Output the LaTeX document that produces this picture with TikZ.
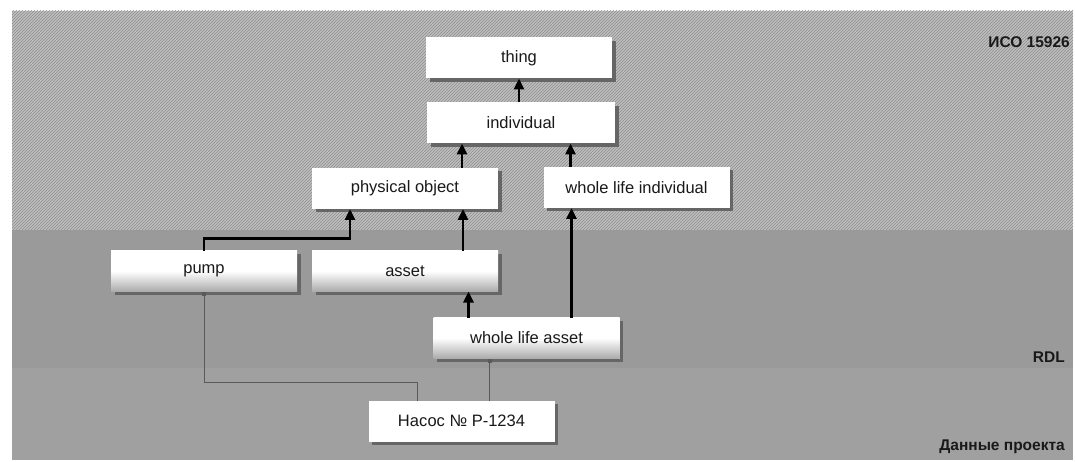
\documentclass[tikz,border=0pt]{standalone}
\usepackage{fontspec}
\setmainfont{Liberation Sans}
\usetikzlibrary{arrows.meta,shadows,patterns}
\definecolor{bandtop}{HTML}{BEBEBE}
\definecolor{bandtex}{HTML}{8E8E8E}
\definecolor{bandrdl}{HTML}{9A9A9A}
\definecolor{banddata}{HTML}{A0A0A0}
\definecolor{shadowgray}{HTML}{666666}
\definecolor{linkgray}{HTML}{5A5A5A}
\definecolor{boxlow}{HTML}{ABABAB}
\begin{document}
\begin{tikzpicture}[x=1pt,y=-1pt,
  font=\fontsize{16.5}{19}\selectfont,
  cls/.style={draw=none,fill=white,minimum width=186pt,minimum height=41pt,
    inner sep=0pt,outer sep=0pt,text=black!90,
    drop shadow={shadow xshift=3.5pt,shadow yshift=-3.5pt,fill=shadowgray,opacity=1}},
  rdlbox/.style={cls,top color=white,bottom color=boxlow,middle color=white},
  arr/.style={line width=2.8pt,-{Triangle[width=10pt,length=11pt]},black},
  link/.style={line width=0.9pt,linkgray,-{Square[length=4pt,width=4pt]}},
  lbl/.style={font=\fontsize{15.5}{18}\bfseries\selectfont,anchor=east,inner sep=0pt,text=black!90}]
\useasboundingbox (0,0) rectangle (1075,462);
\fill[white] (0,0) rectangle (1075,462);
% bands
\fill[bandtop] (12,11) rectangle (1073,230);
\fill[pattern=north east lines,pattern color=bandtex] (12,11) rectangle (1073,230);
\fill[bandrdl] (12,230) rectangle (1073,368);
\fill[banddata] (12,368) rectangle (1073,460);
% labels
\node[lbl] (iso) at (1070,42) {ИСО 15926};
\node[lbl] (rdl) at (1065,357) {RDL};
\node[lbl] (data) at (1065,447) {Данные проекта};
% nodes
\node[cls] (thing) at (519,58) {thing};
\node[cls,minimum width=188pt] (individual) at (521,123) {individual};
\node[cls] (physobj) at (405,188.5) {physical object};
\node[cls] (wli) at (636.5,187.5) {whole life individual};
\node[rdlbox] (pump) at (204,271) {pump};
\node[rdlbox] (asset) at (405,271) {asset};
\node[rdlbox] (wla) at (526.5,338) {whole life asset};
\node[cls] (nasos) at (461.5,421) {Насос № P-1234};
% arrows
\draw[arr] (individual.north -| thing) -- (thing.south);
\draw[arr] ([xshift=57pt]physobj.north) -- ([xshift=57pt]physobj.north |- individual.south);
\draw[arr] ([xshift=-66pt]wli.north) -- ([xshift=-66pt]wli.north |- individual.south);
\draw[arr] (pump.north) -- ++(0,-12) -| ([xshift=-55pt]physobj.south);
\draw[arr] ([xshift=58pt]asset.north) -- ([xshift=58pt]physobj.south);
\draw[arr] ([xshift=-58pt]wla.north) -- ([xshift=-58pt]wla.north |- asset.south);
\draw[arr] ([xshift=45pt]wla.north) -- ([xshift=45pt]wla.north |- wli.south);
% instance links
\draw[link] ([xshift=-44pt]nasos.north) -- ++(0,-18) -| (pump.south);
\draw[link] ([xshift=28pt]nasos.north) -- ([xshift=28pt]nasos.north |- wla.south);
\end{tikzpicture}
\end{document}
